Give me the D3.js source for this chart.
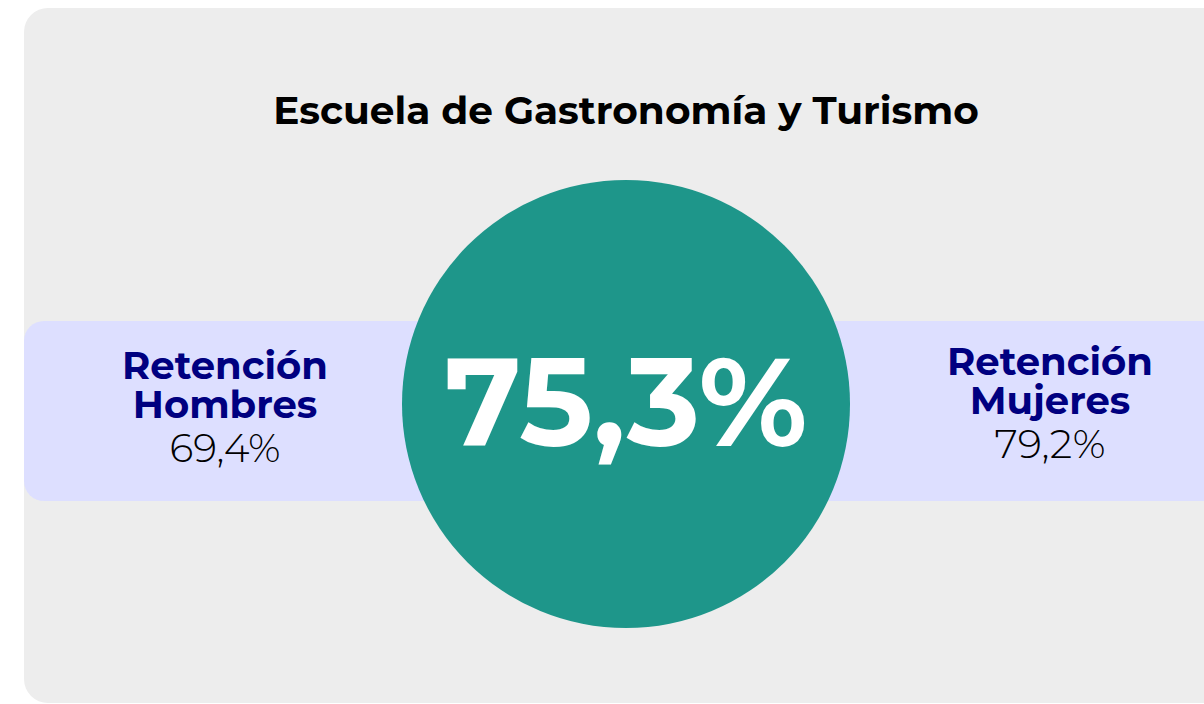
<!DOCTYPE html>
<html>
<head>
<meta charset="utf-8">
<script src="https://cdn.jsdelivr.net/npm/d3@7/dist/d3.min.js"></script>
<style>
  html, body { margin: 0; padding: 0; background: #ffffff; }
  svg { display: block; }
</style>
</head>
<body>
<svg id="chart" width="1204" height="704"></svg>
<script>
// ---- data ----
const title = "Escuela de Gastronomía y Turismo";
const totalValue = 75.3;
const groups = ["Hombres", "Mujeres"];
const groupValues = [69.4, 79.2];
const groupPrefix = "Retención";

const fmt = v => d3.format(".1f")(v).replace(".", ",") + "%";

const svg = d3.select("#chart");
const W = 1204, H = 704;

// background panel (right side runs off the page, bottom corner rounded)
svg.append("rect")
  .attr("x", 24).attr("y", 8)
  .attr("width", W + 40).attr("height", 695)
  .attr("rx", 24).attr("ry", 24)
  .attr("fill", "#ededed");

// horizontal band
svg.append("rect")
  .attr("x", 24).attr("y", 321)
  .attr("width", W + 60).attr("height", 180)
  .attr("rx", 20).attr("ry", 20)
  .attr("fill", "#dddfff");

const cx = 626, cy = 404;
svg.append("circle")
  .attr("cx", cx).attr("cy", cy)
  .attr("r", 224)
  .attr("fill", "#1e968a");

function fit(sel, targetW) {
  const w = sel.node().getComputedTextLength();
  const fs = parseFloat(sel.attr("font-size"));
  sel.attr("font-size", fs * targetW / w);
  return sel;
}

const boldFont = "Montserrat, 'DejaVu Sans', sans-serif";
const lightFont = "Montserrat, 'Open Sans', Lato, sans-serif";

// title
fit(svg.append("text")
  .attr("x", cx).attr("y", 124)
  .attr("text-anchor", "middle")
  .attr("font-family", boldFont).attr("font-weight", 700)
  .attr("font-size", 34).attr("fill", "#000")
  .text(title), 706);

// big number
fit(svg.append("text")
  .attr("x", cx).attr("y", 446)
  .attr("text-anchor", "middle")
  .attr("font-family", boldFont).attr("font-weight", 700)
  .attr("font-size", 120).attr("fill", "#ffffff")
  .text(fmt(totalValue)), 363);

// side labels
const xPos = d3.scalePoint().domain(groups).range([225, 1050]);
const yOff = { "Hombres": 0, "Mujeres": -4 };

groups.forEach((g, i) => {
  const x = xPos(g), dy = yOff[g];
  const t1 = svg.append("text")
    .attr("x", x).attr("y", 379 + dy)
    .attr("text-anchor", "middle")
    .attr("font-family", boldFont).attr("font-weight", 700)
    .attr("font-size", 30).attr("fill", "#000080")
    .text(groupPrefix);
  fit(t1, 206);
  svg.append("text")
    .attr("x", x).attr("y", 418 + dy)
    .attr("text-anchor", "middle")
    .attr("font-family", boldFont).attr("font-weight", 700)
    .attr("font-size", t1.attr("font-size")).attr("fill", "#000080")
    .text(g);
  fit(svg.append("text")
    .attr("x", x).attr("y", 462 + dy)
    .attr("text-anchor", "middle")
    .attr("font-family", lightFont).attr("font-weight", 300)
    .attr("font-size", 30).attr("fill", "#000")
    .text(fmt(groupValues[i])), 111);
});
</script>
</body>
</html>
